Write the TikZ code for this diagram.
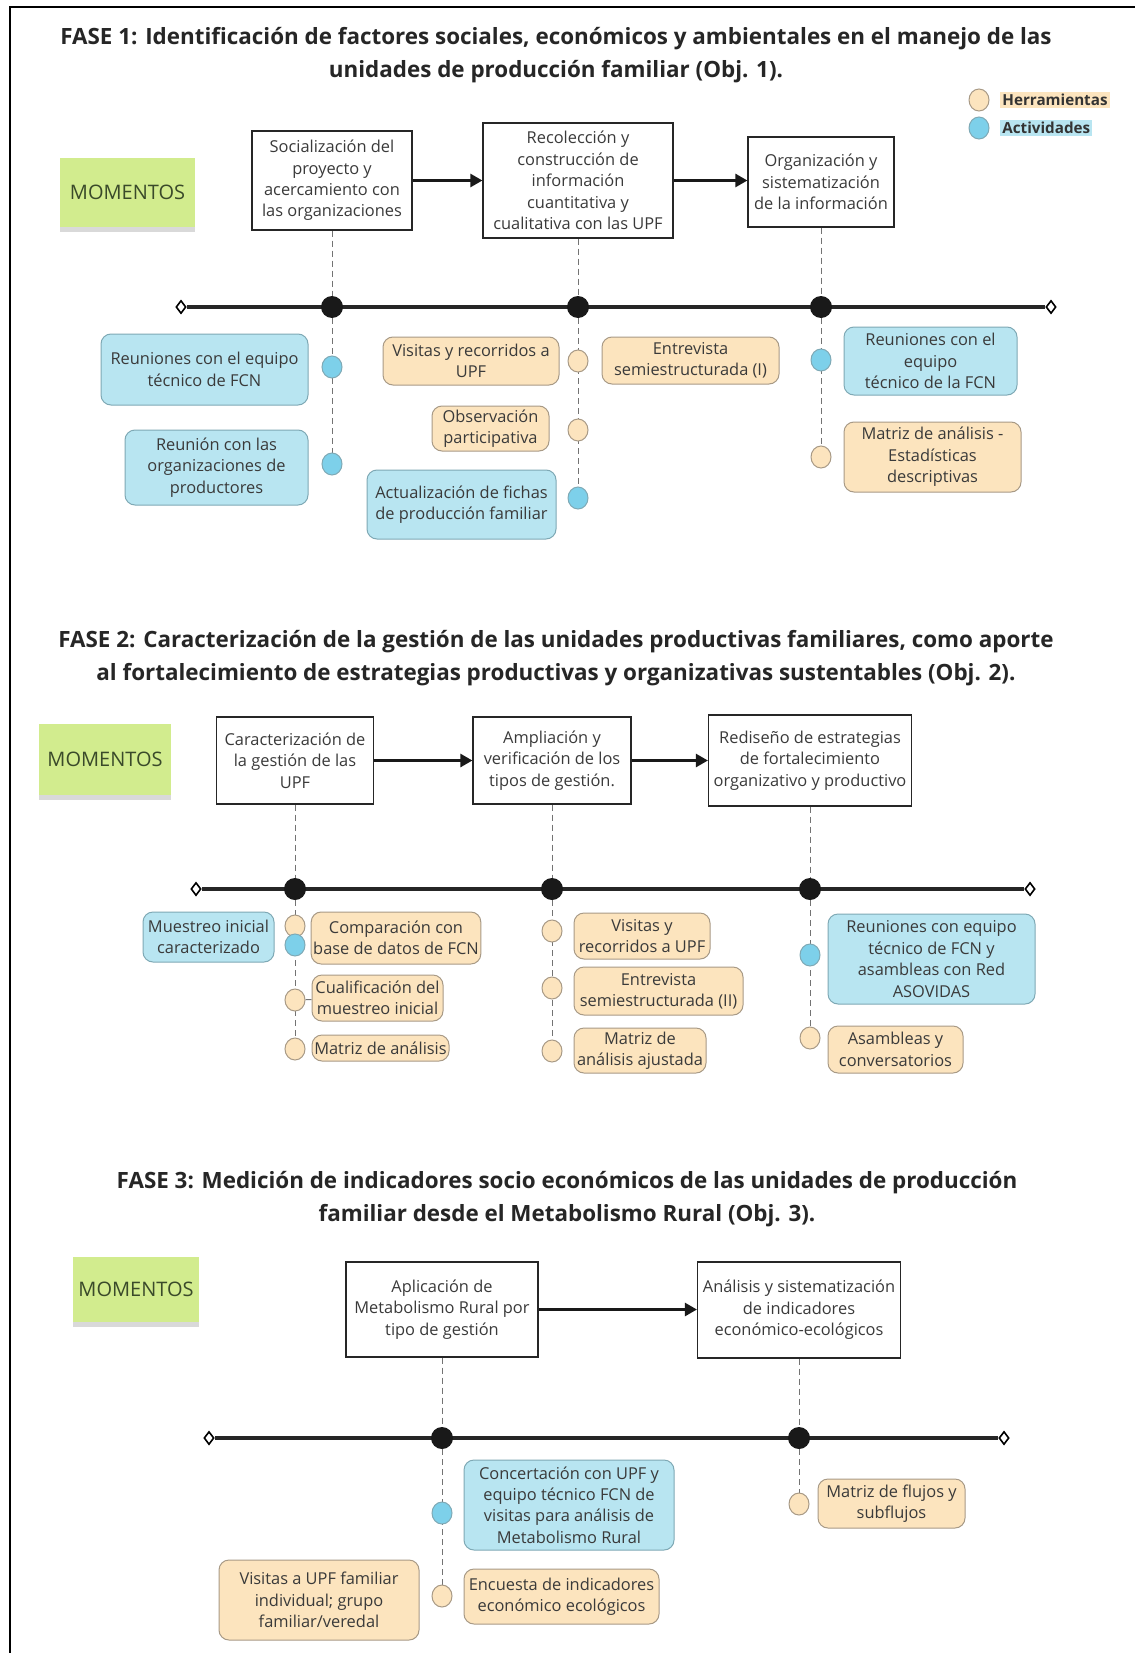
\documentclass[tikz,border=0pt]{standalone}
\usepackage{fontspec}
\setmainfont{Open Sans}
\usetikzlibrary{arrows.meta,shapes.geometric,shadows}
\definecolor{orfill}{HTML}{FCE4BE}
\definecolor{ordraw}{HTML}{A89A86}
\definecolor{blfill}{HTML}{B8E5F1}
\definecolor{bldraw}{HTML}{7FA9B5}
\definecolor{blcirc}{HTML}{7DD0EA}
\definecolor{stick}{HTML}{D2EC8E}
\definecolor{txt}{HTML}{3A3A3A}
\definecolor{sticktxt}{HTML}{3A4A2A}
\newcommand\boxfont{\fontsize{8.2}{10.7}\selectfont}
\newcommand\titlefont{\fontsize{11.2}{16.5}\selectfont\bfseries}
\pgfdeclarelayer{background}
\pgfsetlayers{background,main}
\tikzset{
  mbox/.style={draw=black!85, line width=0.6pt, fill=white, align=center, font=\boxfont, text=txt, inner sep=2pt},
  item/.style={rounded corners=5pt, line width=0.5pt, align=center, font=\boxfont, text=txt, inner sep=1pt},
  tool/.style={item, draw=ordraw, fill=orfill},
  act/.style={item, draw=bldraw, fill=blfill},
  toolc/.style={ellipse, draw=ordraw, fill=orfill, minimum width=10pt, minimum height=11pt, inner sep=0pt, line width=0.5pt},
  actc/.style={ellipse, draw=bldraw, fill=blcirc, minimum width=10pt, minimum height=11pt, inner sep=0pt, line width=0.5pt},
  tdot/.style={circle, fill=black!90, minimum size=11pt, inner sep=0pt},
  endd/.style={diamond, draw=black, fill=white, line width=0.8pt, minimum width=5pt, minimum height=6.5pt, inner sep=0pt},
  tl/.style={line width=1.6pt, black!85},
  dsh/.style={dash pattern=on 3pt off 2pt, black!55, line width=0.5pt},
  arr/.style={-{Triangle[length=6pt,width=6.5pt]}, line width=1.3pt, black!90},
  sticky/.style={fill=stick, font=\fontsize{10}{12}\selectfont, text=sticktxt, inner sep=0pt,
     drop shadow={shadow xshift=0pt, shadow yshift=-2.5pt, fill=black, opacity=0.15}},
  title/.style={align=center, font=\titlefont, text=black!85},
  legt/.style={anchor=west, font=\fontsize{7.6}{9}\selectfont\bfseries, inner sep=1pt, text=black!80},
}
\begin{document}
\begin{tikzpicture}[x=0.5pt,y=-0.5pt]
\useasboundingbox (0,0) rectangle (1135,1653);
\begin{pgfonlayer}{background}
\fill[white] (0,0) rectangle (1135,1653);
\end{pgfonlayer}
\draw[line width=1.2pt] (10,1653) -- (10,7) -- (1135,7);

% ---------------- FASE 1 ----------------
\node[title] (ti1) at (556,55) {FASE 1: Identificación de factores sociales, económicos y ambientales en el manejo de las\\unidades de producción familiar (Obj. 1).};

\node[toolc] (lh) at (979,100) {};
\node[actc] (la) at (979,128) {};
\node[legt, fill=orfill] (lht) at (1000,100) {Herramientas};
\node[legt, fill=blfill] (lat) at (1000,128) {Actividades};

\node[sticky, minimum width=67.5pt, minimum height=34.5pt] (mo1) at (127.5,192.5) {MOMENTOS};

\node[mbox, minimum width=80pt, minimum height=49.5pt] (m11) at (332,180.5) {Socialización del\\proyecto y\\acercamiento con\\las organizaciones};
\node[mbox, minimum width=95pt, minimum height=57.5pt] (m12) at (578,180.5) {Recolección y\\construcción de\\información\\cuantitativa y\\cualitativa con las UPF};
\node[mbox, minimum width=73pt, minimum height=45pt] (m13) at (821,182) {Organización y\\sistematización\\de la información};
\draw[arr] (m11.east) -- (m11.east -| m12.west);
\draw[arr] (m12.east) -- (m12.east -| m13.west);

\node[endd] (l1) at (181,307) {};
\node[endd] (r1) at (1051,307) {};
\node[tdot] (d11) at (332,307) {};
\node[tdot] (d12) at (578,307) {};
\node[tdot] (d13) at (821,307) {};

\node[actc] (c111) at (332,367) {};
\node[actc] (c112) at (332,464) {};
\node[act, minimum width=103.5pt, minimum height=35.5pt] (b111) at (204.5,369.5) {Reuniones con el equipo\\técnico de FCN};
\node[act, minimum width=91.5pt, minimum height=37.5pt] (b112) at (216.5,467.5) {Reunión con las\\organizaciones de\\productores};

\node[toolc] (c121) at (578,361) {};
\node[toolc] (c122) at (578,430) {};
\node[actc] (c123) at (578,498) {};
\node[tool, minimum width=88pt, minimum height=24pt] (b121) at (471,361) {Visitas y recorridos a\\UPF};
\node[tool, minimum width=88.5pt, minimum height=23.5pt] (b121b) at (690.5,360.5) {Entrevista\\semiestructurada (I)};
\node[tool, minimum width=58.5pt, minimum height=22.5pt] (b122) at (490.5,428.5) {Observación\\participativa};
\node[act, minimum width=94.5pt, minimum height=34.5pt] (b123) at (461.5,504.5) {Actualización de fichas\\de producción familiar};

\node[actc] (c131) at (821,360) {};
\node[toolc] (c132) at (821,457) {};
\node[act, minimum width=86.5pt, minimum height=34pt] (b131) at (930.5,361) {Reuniones con el\\equipo\\técnico de la FCN};
\node[tool, minimum width=88.5pt, minimum height=35pt] (b132) at (932.5,457) {Matriz de análisis -\\Estadísticas\\descriptivas};

% ---------------- FASE 2 ----------------
\node[title] (ti2) at (556,658) {FASE 2: Caracterización de la gestión de las unidades productivas familiares, como aporte\\al fortalecimiento de estrategias productivas y organizativas sustentables (Obj. 2).};

\node[sticky, minimum width=66pt, minimum height=35.5pt] (mo2) at (105,759.5) {MOMENTOS};

\node[mbox, minimum width=78.5pt, minimum height=43.5pt] (m21) at (295,760.5) {Caracterización de\\la gestión de las\\UPF};
\node[mbox, minimum width=79pt, minimum height=43.5pt] (m22) at (552,760.5) {Ampliación y\\verificación de los\\tipos de gestión.};
\node[mbox, minimum width=101.5pt, minimum height=45.5pt] (m23) at (810,760.5) {Rediseño de estrategias\\de fortalecimiento\\organizativo y productivo};
\draw[arr] (m21.east) -- (m21.east -| m22.west);
\draw[arr] (m22.east) -- (m22.east -| m23.west);

\node[endd] (l2) at (196,889) {};
\node[endd] (r2) at (1030,889) {};
\node[tdot] (d21) at (295,889) {};
\node[tdot] (d22) at (552,889) {};
\node[tdot] (d23) at (810,889) {};

\node[toolc] (c211) at (295,926) {};
\node[actc] (c212) at (295,945) {};
\node[toolc] (c213) at (295,1000) {};
\node[toolc] (c214) at (295,1049) {};
\node[tool, minimum width=84pt, minimum height=26pt] (b211) at (396,938) {Comparación con\\base de datos de FCN};
\node[act, minimum width=65.5pt, minimum height=25pt] (b212) at (208.5,937) {Muestreo inicial\\caracterizado};
\node[tool, minimum width=65.5pt, minimum height=23pt] (b213) at (377.5,998) {Cualificación del\\muestreo inicial};
\node[tool, minimum width=68.5pt, minimum height=13pt] (b214) at (380.5,1048) {Matriz de análisis};

\node[toolc] (c221) at (552,931) {};
\node[toolc] (c222) at (552,988) {};
\node[toolc] (c223) at (552,1051) {};
\node[tool, minimum width=68pt, minimum height=23pt] (b221) at (642,936) {Visitas y\\recorridos a UPF};
\node[tool, minimum width=84.5pt, minimum height=24pt] (b222) at (658.5,991) {Entrevista\\semiestructurada (II)};
\node[tool, minimum width=66pt, minimum height=22.5pt] (b223) at (640,1050.5) {Matriz de\\análisis ajustada};

\node[actc] (c231) at (810,955) {};
\node[toolc] (c232) at (810,1038) {};
\node[act, minimum width=103.5pt, minimum height=45pt] (b231) at (931.5,959) {Reuniones con equipo\\técnico de FCN y\\asambleas con Red\\ASOVIDAS};
\node[tool, minimum width=67.5pt, minimum height=23.5pt] (b232) at (895.5,1049.5) {Asambleas y\\conversatorios};

% ---------------- FASE 3 ----------------
\node[title] (ti3) at (567,1199) {FASE 3: Medición de indicadores socio económicos de las unidades de producción\\familiar desde el Metabolismo Rural (Obj. 3).};

\node[sticky, minimum width=63pt, minimum height=32.5pt] (mo3) at (136,1289.5) {MOMENTOS};

\node[mbox, minimum width=96pt, minimum height=47.5pt] (m31) at (442,1309.5) {Aplicación de\\Metabolismo Rural por\\tipo de gestión};
\node[mbox, minimum width=101.5pt, minimum height=48pt] (m32) at (799,1310) {Análisis y sistematización\\de indicadores\\económico-ecológicos};
\draw[arr] (m31.east) -- (m31.east -| m32.west);

\node[endd] (l3) at (209,1438) {};
\node[endd] (r3) at (1004,1438) {};
\node[tdot] (d31) at (442,1438) {};
\node[tdot] (d32) at (799,1438) {};

\node[actc] (c311) at (442,1513) {};
\node[toolc] (c312) at (442,1596) {};
\node[act, minimum width=105pt, minimum height=45pt] (b311) at (569,1505) {Concertación con UPF y\\equipo técnico FCN de\\visitas para análisis de\\Metabolismo Rural};
\node[tool, minimum width=97.5pt, minimum height=27.5pt] (b312) at (561.5,1596.5) {Encuesta de indicadores\\económico ecológicos};
\node[tool, minimum width=100pt, minimum height=40pt] (b313) at (319,1600) {Visitas a UPF familiar\\individual; grupo\\familiar/veredal};

\node[toolc] (c321) at (799,1504) {};
\node[tool, minimum width=73.5pt, minimum height=24.5pt] (b321) at (891.5,1503.5) {Matriz de flujos y\\subflujos};

% ---------------- connectors (behind) ----------------
\begin{pgfonlayer}{background}
\draw[tl] (l1) -- (r1);
\draw[tl] (l2) -- (r2);
\draw[tl] (l3) -- (r3);
\draw[dsh] (m11) -- (d11); \draw[dsh] (d11) -- (c112);
\draw[dsh] (m12) -- (d12); \draw[dsh] (d12) -- (c123);
\draw[dsh] (m13) -- (d13); \draw[dsh] (d13) -- (c132);
\draw[dsh] (m21) -- (d21); \draw[dsh] (d21) -- (c214);
\draw[dsh] (m22) -- (d22); \draw[dsh] (d22) -- (c223);
\draw[dsh] (m23) -- (d23); \draw[dsh] (d23) -- (c232);
\draw[dsh] (m31) -- (d31); \draw[dsh] (d31) -- (c312);
\draw[dsh] (m32) -- (d32); \draw[dsh] (d32) -- (c321);
\draw[black!55, line width=0.5pt] (c213) -- (b213);
\end{pgfonlayer}
\end{tikzpicture}
\end{document}
